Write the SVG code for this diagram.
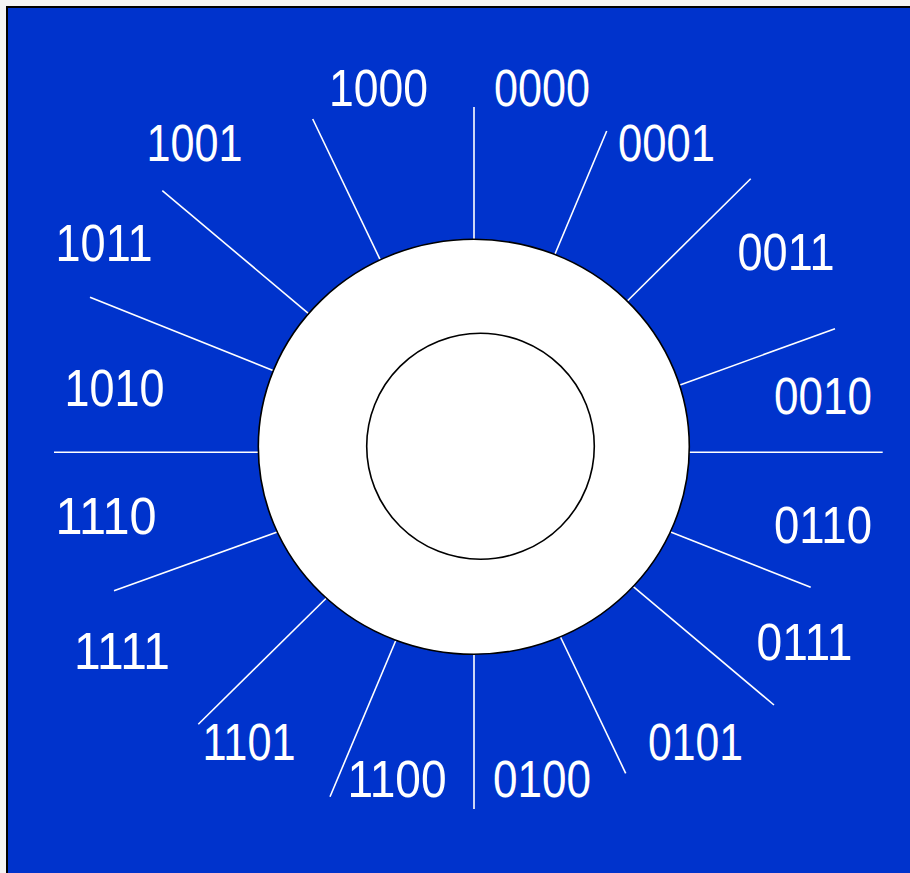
<svg xmlns="http://www.w3.org/2000/svg" width="910" height="873" viewBox="0 0 910 873">
<style>
.bg{fill:#0033cc;stroke:#000;stroke-width:2}
.ring{fill:#fff;stroke:#000;stroke-width:1.6}
.tick{stroke:#fff;stroke-width:1.6;fill:none}
.lbl{fill:#fff;font-family:"Liberation Sans",Arial,sans-serif;font-size:52px}
</style>
<rect x="0" y="0" width="910" height="873" fill="#f4f4f4"/>
<rect class="bg" x="7" y="7" width="915" height="880"/>
<g id="connectors">
<line class="tick" x1="474" y1="107" x2="474" y2="240"/>
<line class="tick" x1="312.7" y1="119" x2="380" y2="259.3"/>
<line class="tick" x1="606.7" y1="131" x2="555" y2="254"/>
<line class="tick" x1="162.3" y1="190.7" x2="308.3" y2="313.3"/>
<line class="tick" x1="750.7" y1="178.7" x2="627.3" y2="301"/>
<line class="tick" x1="90" y1="297.3" x2="273" y2="370.5"/>
<line class="tick" x1="835" y1="328.7" x2="680" y2="385"/>
<line class="tick" x1="54" y1="452.3" x2="259" y2="452.3"/>
<line class="tick" x1="688.5" y1="452.3" x2="882.7" y2="452.3"/>
<line class="tick" x1="114" y1="590.7" x2="277.3" y2="532"/>
<line class="tick" x1="810.7" y1="587.3" x2="670" y2="531.7"/>
<line class="tick" x1="198.3" y1="724.3" x2="326.7" y2="597.7"/>
<line class="tick" x1="774" y1="705" x2="633.3" y2="586.7"/>
<line class="tick" x1="330" y1="796.7" x2="396" y2="640"/>
<line class="tick" x1="625.7" y1="773.3" x2="560" y2="636"/>
<line class="tick" x1="474" y1="654" x2="474" y2="809"/>
</g>
<g id="outer-ring"><ellipse class="ring" cx="473.8" cy="446.8" rx="215.5" ry="207.5"/></g>
<g id="inner-ring"><ellipse class="ring" cx="480.5" cy="446.3" rx="113.8" ry="113"/></g>
<g id="labels">
<g id="n1000"><text class="lbl" x="329" y="106" textLength="99" lengthAdjust="spacingAndGlyphs">1000</text></g>
<g id="n0000"><text class="lbl" x="494" y="106" textLength="96" lengthAdjust="spacingAndGlyphs">0000</text></g>
<g id="n1001"><text class="lbl" x="146.5" y="161" textLength="96" lengthAdjust="spacingAndGlyphs">1001</text></g>
<g id="n0001"><text class="lbl" x="618" y="161" textLength="97" lengthAdjust="spacingAndGlyphs">0001</text></g>
<g id="n1011"><text class="lbl" x="55.5" y="261" textLength="97" lengthAdjust="spacingAndGlyphs">1011</text></g>
<g id="n0011"><text class="lbl" x="737.5" y="270" textLength="97" lengthAdjust="spacingAndGlyphs">0011</text></g>
<g id="n1010"><text class="lbl" x="64.5" y="406" textLength="100" lengthAdjust="spacingAndGlyphs">1010</text></g>
<g id="n0010"><text class="lbl" x="774" y="414" textLength="98" lengthAdjust="spacingAndGlyphs">0010</text></g>
<g id="n1110"><text class="lbl" x="55.5" y="534" textLength="101" lengthAdjust="spacingAndGlyphs">1110</text></g>
<g id="n0110"><text class="lbl" x="774" y="543" textLength="98" lengthAdjust="spacingAndGlyphs">0110</text></g>
<g id="n1111"><text class="lbl" x="74" y="669" textLength="96" lengthAdjust="spacingAndGlyphs">1111</text></g>
<g id="n0111"><text class="lbl" x="756.5" y="660" textLength="96" lengthAdjust="spacingAndGlyphs">0111</text></g>
<g id="n1101"><text class="lbl" x="202.5" y="760" textLength="93" lengthAdjust="spacingAndGlyphs">1101</text></g>
<g id="n0101"><text class="lbl" x="648" y="760" textLength="95" lengthAdjust="spacingAndGlyphs">0101</text></g>
<g id="n1100"><text class="lbl" x="347.5" y="797" textLength="99" lengthAdjust="spacingAndGlyphs">1100</text></g>
<g id="n0100"><text class="lbl" x="493" y="797" textLength="98" lengthAdjust="spacingAndGlyphs">0100</text></g>
</g>
</svg>
